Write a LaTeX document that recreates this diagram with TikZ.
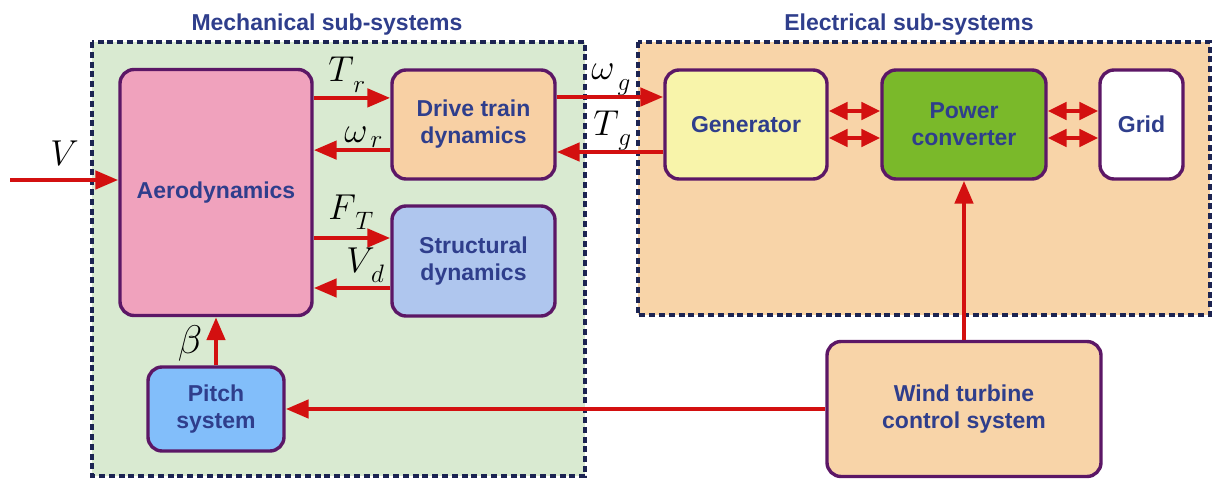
\documentclass[tikz,border=0pt]{standalone}
\usepackage{fix-cm}
\usepackage{fontspec}
\setsansfont{Liberation Sans}
\usetikzlibrary{arrows.meta}
\definecolor{mechfill}{HTML}{D9EAD1}
\definecolor{elecfill}{HTML}{F8D4A8}
\definecolor{aerofill}{HTML}{F0A2BD}
\definecolor{drivefill}{HTML}{F8D0A4}
\definecolor{structfill}{HTML}{AFC6EE}
\definecolor{pitchfill}{HTML}{82BEFA}
\definecolor{genfill}{HTML}{F8F4AA}
\definecolor{pcfill}{HTML}{7AB92A}
\definecolor{ctrlfill}{HTML}{F8D4A8}
\definecolor{boxborder}{HTML}{5C1766}
\definecolor{dashcol}{HTML}{1C2452}
\definecolor{txtcol}{HTML}{2F3E8C}
\definecolor{arrred}{HTML}{D31010}
\newcommand{\lsub}[2]{#1_{\,\raisebox{-2.6pt}{$\scriptstyle #2$}}}
\begin{document}
\begin{tikzpicture}[x=0.5pt,y=-0.5pt,
  blk/.style={draw=boxborder, line width=1.7pt, rounded corners=7pt, align=center,
    font=\sffamily\bfseries\fontsize{11.5}{13.5}\selectfont, text=txtcol, inner sep=2pt},
  group/.style={draw=dashcol, line width=1.8pt, dash pattern=on 3pt off 1.9pt},
  grouptitle/.style={font=\sffamily\bfseries\fontsize{11.5}{13.5}\selectfont, text=txtcol},
  arr/.style={draw=arrred, line width=2.3pt, -{Triangle[length=11.5pt,width=9pt]}},
  darr/.style={draw=arrred, line width=2.3pt, {Triangle[length=9.5pt,width=8.5pt]}-{Triangle[length=9.5pt,width=8.5pt]}},
  mlab/.style={font=\fontsize{18}{20}\selectfont, inner sep=0pt, anchor=base west}
]
\useasboundingbox (0,0) rectangle (1215,481);
% groups
\draw[group, fill=mechfill] (92,42) rectangle (585,476);
\draw[group, fill=elecfill] (638,42) rectangle (1210,315);
\node[grouptitle] (mtitle) at (327,25) {Mechanical sub-systems};
\node[grouptitle] (etitle) at (909,25) {Electrical sub-systems};
% blocks
\node[blk, fill=aerofill, minimum width=96pt, minimum height=123pt] (aero) at (216,192.5) {Aerodynamics};
\node[blk, fill=drivefill, minimum width=81.5pt, minimum height=54.5pt] (drive) at (473.5,124.5) {Drive train\\dynamics};
\node[blk, fill=structfill, minimum width=81.5pt, minimum height=55pt] (struct) at (473.5,261) {Structural\\dynamics};
\node[blk, fill=pitchfill, minimum width=68pt, minimum height=42pt] (pitch) at (216,409) {Pitch\\system};
\node[blk, fill=genfill, minimum width=81pt, minimum height=54.5pt] (gen) at (746,124.5) {Generator};
\node[blk, fill=pcfill, minimum width=82pt, minimum height=54.5pt] (pc) at (964,124.5) {Power\\converter};
\node[blk, fill=white, minimum width=41.5pt, minimum height=54.5pt] (grid) at (1141.5,124.5) {Grid};
\node[blk, fill=ctrlfill, minimum width=137pt, minimum height=67.5pt] (ctrl) at (964,409) {Wind turbine\\control system};
% input
\coordinate (vin) at (10,180);
\draw[arr] (vin) -- (vin -| aero.west);
\node[mlab] (vlab) at (50,165) {$V$};
% aero <-> drive
\draw[arr] ([yshift=13.3pt]drive.west -| aero.east) -- ([yshift=13.3pt]drive.west);
\draw[arr] ([yshift=-12.8pt]drive.west) -- ([yshift=-12.8pt]drive.west -| aero.east);
\node[mlab] (tr) at (328,82) {$\lsub{T}{r}$};
\node[mlab] (wr) at (344,142) {$\omega_{\,r}$};
% aero <-> struct
\draw[arr] ([yshift=11.5pt]struct.west -| aero.east) -- ([yshift=11.5pt]struct.west);
\draw[arr] ([yshift=-13.5pt]struct.west) -- ([yshift=-13.5pt]struct.west -| aero.east);
\node[mlab] (ft) at (328,219) {$\lsub{F}{T}$};
\node[mlab] (vd) at (346,272) {$\lsub{V}{d}$};
% drive <-> gen
\draw[arr] ([yshift=13.75pt]drive.east) -- ([yshift=13.75pt]gen.west);
\draw[arr] ([yshift=-13.75pt]gen.west) -- ([yshift=-13.75pt]drive.east);
\node[mlab] (wg) at (591,80) {$\lsub{\omega}{g}$};
\node[mlab] (tg) at (593,135) {$\lsub{T}{g}$};
% gen <-> pc <-> grid
\draw[darr] ([yshift=6.75pt]gen.east) -- ([yshift=6.75pt]pc.west);
\draw[darr] ([yshift=-6.75pt]gen.east) -- ([yshift=-6.75pt]pc.west);
\draw[darr] ([yshift=6.75pt]pc.east) -- ([yshift=6.75pt]grid.west);
\draw[darr] ([yshift=-6.75pt]pc.east) -- ([yshift=-6.75pt]grid.west);
% control
\draw[arr] (ctrl.north) -- (pc.south);
\draw[arr] (ctrl.west) -- (pitch.east);
\draw[arr] (pitch.north) -- (aero.south);
\node[font=\fontsize{20}{22}\selectfont, inner sep=0pt] (beta) at (190,343) {$\beta$};
\end{tikzpicture}
\end{document}
